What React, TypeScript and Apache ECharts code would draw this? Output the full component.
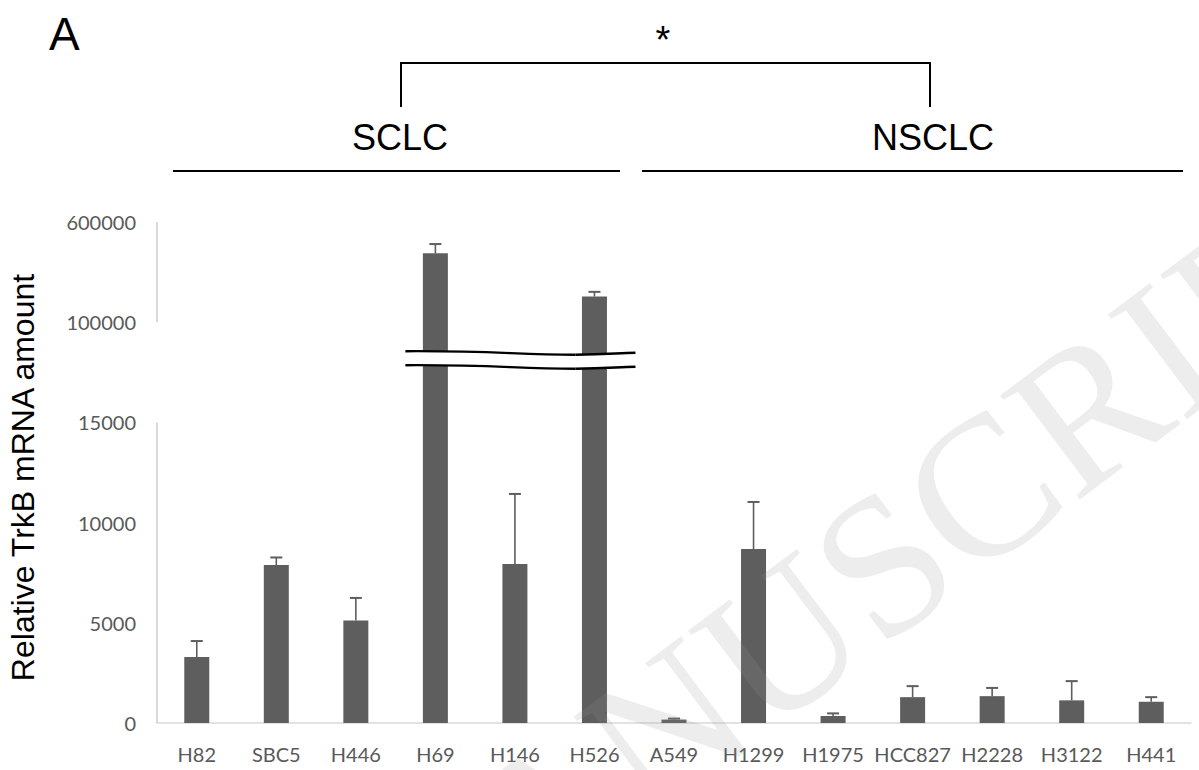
import React, { useEffect, useRef } from "react";
import * as echarts from "echarts";

// ---- data ----
const categories = ["H82", "SBC5", "H446", "H69", "H146", "H526", "A549", "H1299", "H1975", "HCC827", "H2228", "H3122", "H441"];
const meanValues = [3290, 7880, 5120, 443500, 7930, 228500, 170, 8680, 350, 1290, 1340, 1130, 1060];
const errorValues = [800, 380, 1120, 46500, 3500, 23000, 50, 2350, 130, 550, 410, 960, 230];
const yTickValues = [0, 5000, 10000, 15000, 100000, 600000];
const yTickLabels = ["0", "5000", "10000", "15000", "100000", "600000"];
const groupLabels = ["SCLC", "NSCLC"];
const yAxisTitle = "Relative TrkB mRNA amount";
const panelLabel = "A";
const significance = "*";

// broken-axis scale: lower segment linear 0..15000, upper segment 100000..600000
const LOWER_MAX = 15000;
const UPPER_MIN = 100000;
const UPPER_MAX = 600000;
const STEP = 5000;
const toDisplay = (v: number) =>
  v <= LOWER_MAX ? v : LOWER_MAX + STEP + ((v - UPPER_MIN) / (UPPER_MAX - UPPER_MIN)) * STEP;

const BAR_COLOR = "#5e5e5e";
const LABEL_COLOR = "#595959";

function cubic(p0: number[], p1: number[], p2: number[], p3: number[], t: number) {
  const u = 1 - t;
  return [
    u * u * u * p0[0] + 3 * u * u * t * p1[0] + 3 * u * t * t * p2[0] + t * t * t * p3[0],
    u * u * u * p0[1] + 3 * u * u * t * p1[1] + 3 * u * t * t * p2[1] + t * t * t * p3[1],
  ];
}

export default function App() {
  const ref = useRef<HTMLDivElement>(null);
  useEffect(() => {
    if (!ref.current) return;
    const chart = echarts.init(ref.current, undefined, { renderer: "svg" });
    const displayTicks = yTickValues.map(toDisplay);
    chart.setOption({
      animation: false,
      backgroundColor: "#ffffff",
      grid: { left: 157, right: 8, top: 222, bottom: 47, containLabel: false },
      xAxis: {
        type: "category",
        data: categories,
        axisLine: { show: true, lineStyle: { color: "#d9d9d9", width: 1.5 } },
        axisTick: { show: false },
        axisLabel: { color: LABEL_COLOR, fontFamily: "Lato", fontSize: 20, margin: 21, interval: 0 },
      },
      yAxis: {
        type: "value",
        min: 0,
        max: toDisplay(UPPER_MAX),
        interval: STEP,
        axisLine: { show: false },
        axisTick: { show: false },
        splitLine: { show: false },
        axisLabel: {
          color: LABEL_COLOR,
          fontFamily: "Lato",
          fontSize: 20,
          margin: 21,
          formatter: (v: number) => {
            const i = displayTicks.findIndex((d) => Math.abs(d - v) < 1e-6);
            return i >= 0 ? yTickLabels[i] : "";
          },
        },
      },
      series: [
        {
          type: "bar",
          data: meanValues.map(toDisplay),
          barWidth: 25,
          itemStyle: { color: BAR_COLOR },
          z: 2,
        },
        {
          type: "custom",
          data: meanValues.map((v, i) => [i, v, v + errorValues[i]]),
          z: 3,
          renderItem: (params: any, api: any) => {
            const i = api.value(0);
            const base = api.coord([i, toDisplay(api.value(1))]);
            const top = api.coord([i, toDisplay(api.value(2))]);
            const style = { stroke: BAR_COLOR, lineWidth: 1.6 };
            return {
              type: "group",
              children: [
                { type: "line", shape: { x1: base[0], y1: base[1], x2: top[0], y2: top[1] }, style },
                { type: "line", shape: { x1: top[0] - 6, y1: top[1], x2: top[0] + 6, y2: top[1] }, style: { ...style, lineWidth: 2 } },
              ],
            };
          },
        },
      ],
    });

    // derived positions from the chart's own scales
    const px = (cat: number, v: number) => chart.convertToPixel({ gridIndex: 0 }, [cat, v]) as number[];
    const axisX = px(0, 0)[0] - (px(1, 0)[0] - px(0, 0)[0]) / 2;
    const y0 = px(0, 0)[1];
    const yLowTop = px(0, LOWER_MAX)[1];
    const yUpBottom = px(0, toDisplay(UPPER_MIN))[1];
    const yUpTop = px(0, toDisplay(UPPER_MAX))[1];

    const xs = px(3, 0)[0] - 30;
    const xe = px(5, 0)[0] + 41;
    const xm = xs + 170;
    const waveTop = yUpBottom + 29;
    const waveBot = yUpBottom + 43;
    const makeCurve = (y: number) => {
      const a = [[xs, y], [xs + 90, y - 0.5], [xs + 110, y + 3.5], [xm, y + 3.5]];
      const b = [[xm, y + 3.5], [xm + 30, y + 3.5], [xe - 20, y + 2], [xe, y + 1.5]];
      return [a, b];
    };
    const sample = (y: number) => {
      const pts: number[][] = [];
      for (const seg of makeCurve(y)) {
        for (let k = 0; k <= 20; k++) pts.push(cubic(seg[0], seg[1], seg[2], seg[3], k / 20));
      }
      return pts;
    };
    const topPts = sample(waveTop);
    const botPts = sample(waveBot);
    const bandPoly = topPts.concat(botPts.slice().reverse());
    const curveEls: any[] = [];
    for (const y of [waveTop, waveBot]) {
      for (const seg of makeCurve(y)) {
        curveEls.push({
          type: "bezierCurve",
          shape: { x1: seg[0][0], y1: seg[0][1], cpx1: seg[1][0], cpy1: seg[1][1], cpx2: seg[2][0], cpy2: seg[2][1], x2: seg[3][0], y2: seg[3][1] },
          style: { stroke: "#000", lineWidth: 2.4, fill: null },
          z: 12,
        });
      }
    }

    const black = { stroke: "#000", lineWidth: 2 };
    const wmAngle = (37 * Math.PI) / 180;

    chart.setOption({
      graphic: [
        // split y axis line
        { type: "line", shape: { x1: axisX, y1: y0, x2: axisX, y2: yLowTop }, style: { stroke: "#bfbfbf", lineWidth: 1.2 }, z: 5 },
        { type: "line", shape: { x1: axisX, y1: yUpBottom, x2: axisX, y2: yUpTop }, style: { stroke: "#bfbfbf", lineWidth: 1.2 }, z: 5 },
        // break band
        { type: "polygon", shape: { points: bandPoly }, style: { fill: "#ffffff" }, z: 11 },
        ...curveEls,
        // y axis title
        {
          type: "text",
          x: 23,
          y: (y0 + yUpTop) / 2 + 5,
          rotation: Math.PI / 2,
          style: { text: yAxisTitle, fill: "#000", font: "32px 'Liberation Sans', Arial, sans-serif", align: "center", verticalAlign: "middle" },
          z: 12,
        },
        // panel label
        { type: "text", x: 49, y: 34, style: { text: panelLabel, fill: "#000", font: "46px 'Liberation Sans', Arial, sans-serif", align: "left", verticalAlign: "middle" }, z: 12 },
        // significance bracket
        { type: "polyline", shape: { points: [[401, 107], [401, 63], [930, 63], [930, 107]] }, style: { ...black, fill: null }, z: 12 },
        { type: "text", x: 663, y: 40, style: { text: significance, fill: "#000", font: "38px 'Liberation Sans', Arial, sans-serif", align: "center", verticalAlign: "middle" }, z: 12 },
        // group labels & lines
        { type: "text", x: 400, y: 137, style: { text: groupLabels[0], fill: "#000", font: "36px 'Liberation Sans', Arial, sans-serif", align: "center", verticalAlign: "middle" }, z: 12 },
        { type: "text", x: 933, y: 137, style: { text: groupLabels[1], fill: "#000", font: "36px 'Liberation Sans', Arial, sans-serif", align: "center", verticalAlign: "middle" }, z: 12 },
        { type: "line", shape: { x1: 173, y1: 171, x2: 620, y2: 171 }, style: black, z: 12 },
        { type: "line", shape: { x1: 642, y1: 171, x2: 1183, y2: 171 }, style: black, z: 12 },
        // watermark
        {
          type: "text",
          x: 350,
          y: 965,
          rotation: wmAngle,
          style: { text: "MANUSCRIPT", fill: "rgba(150,150,150,0.17)", font: "200px 'Liberation Serif', 'DejaVu Serif', serif", align: "left", verticalAlign: "middle" },
          z: 50,
          silent: true,
        },
      ],
    });
    return () => chart.dispose();
  }, []);
  return <div ref={ref} style={{ width: 1199, height: 770, position: "absolute", left: 0, top: 0 }} />;
}
